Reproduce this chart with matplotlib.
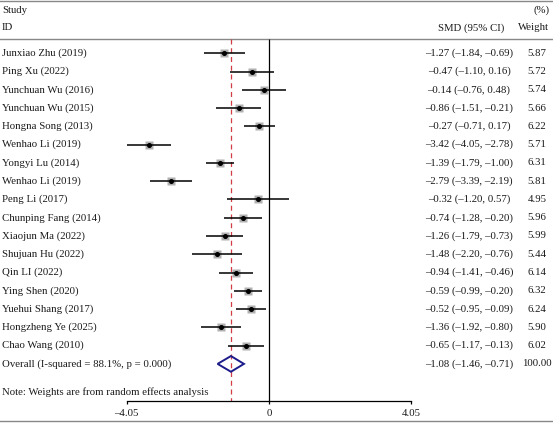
import matplotlib
matplotlib.use('Agg')
import matplotlib.pyplot as plt
from matplotlib.patches import Polygon
import numpy as np

# Forest plot: SMD with 95% CI, random effects weights.

studies = ['Junxiao Zhu (2019)', 'Ping Xu (2022)', 'Yunchuan Wu (2016)', 'Yunchuan Wu (2015)',
           'Hongna Song (2013)', 'Wenhao Li (2019)', 'Yongyi Lu (2014)', 'Wenhao Li (2019)',
           'Peng Li (2017)', 'Chunping Fang (2014)', 'Xiaojun Ma (2022)', 'Shujuan Hu (2022)',
           'Qin LI (2022)', 'Ying Shen (2020)', 'Yuehui Shang (2017)', 'Hongzheng Ye (2025)',
           'Chao Wang (2010)']
smd = [-1.27, -0.47, -0.14, -0.86, -0.27, -3.42, -1.39, -2.79, -0.32, -0.74,
       -1.26, -1.48, -0.94, -0.59, -0.52, -1.36, -0.65]
ci_low = [-1.84, -1.10, -0.76, -1.51, -0.71, -4.05, -1.79, -3.39, -1.20, -1.28,
          -1.79, -2.20, -1.41, -0.99, -0.95, -1.92, -1.17]
ci_high = [-0.69, 0.16, 0.48, -0.21, 0.17, -2.78, -1.00, -2.19, 0.57, -0.20,
           -0.73, -0.76, -0.46, -0.20, -0.09, -0.80, -0.13]
weights = [5.87, 5.72, 5.74, 5.66, 6.22, 5.71, 6.31, 5.81, 4.95, 5.96,
           5.99, 5.44, 6.14, 6.32, 6.24, 5.90, 6.02]
overall_label = 'Overall (I-squared = 88.1%, p = 0.000)'
overall_smd = -1.08
overall_low = -1.46
overall_high = -0.71
overall_weight = 100.00
xticks = [-4.05, 0, 4.05]
xtick_labels = ['–4.05', '0', '4.05']

W, H = 553, 424
FONT = 'Liberation Serif'
FS = 7.75
TXT = '#1a1a1a'
RULE = '#888888'


def fmt(v):
    return f'{v:.2f}'.replace('-', '–')


fig = plt.figure(figsize=(W / 100, H / 100), dpi=100)
ax = fig.add_axes([0, 0, 1, 1])

# x: -4.05 -> px 126.7, 4.05 -> px 411 ; y: row index, row 0 at px 53.3, 18.27 px per row
ppu = (411 - 126.7) / 8.1
ax.set_xlim(-4.05 - 126.7 / ppu, 4.05 + (W - 411) / ppu)
ax.set_ylim((H - 53.3) / 18.27, -53.3 / 18.27)

n = len(studies)
rows = np.arange(n)
ov_row = n
top_rule, head_rule, axis_row, bottom_rule = -2.86, -0.81, 19.03, 20.12

tr = ax.get_yaxis_transform()  # x axes fraction, y data
tx = lambda px: px / W

ax.axhline(top_rule, color=RULE, lw=1.0)
ax.axhline(head_rule, color=RULE, lw=1.0)
ax.axhline(bottom_rule, color=RULE, lw=1.0)

ax.vlines(0, head_rule, axis_row, color='black', lw=0.9)
ax.vlines(overall_smd, head_rule, axis_row, color='#d23c46', lw=0.9, linestyles=(0, (4, 3)))

# CI lines and weighted squares
ax.hlines(rows, ci_low, ci_high, color='black', lw=1.1, zorder=3)
for r, m, w in zip(rows, smd, weights):
    ax.plot(m, r, marker='s', ms=2.5 * np.sqrt(w), color='#b0b0b0', mec='none', zorder=2)
ax.plot(smd, rows, 'o', ms=2.6, color='black', zorder=4)

# overall diamond
hh = 0.43
ax.add_patch(Polygon([(overall_low, ov_row), (overall_smd, ov_row - hh),
                      (overall_high, ov_row), (overall_smd, ov_row + hh)],
                     closed=True, fill=False, edgecolor='#1c1c8a', lw=1.4, zorder=5))

kw = dict(family=FONT, fontsize=FS, color=TXT, va='center', transform=tr)
ax.text(tx(2), -2.37, 'Study', **kw)
ax.text(tx(2), -1.385, 'ID', **kw)
ax.text(tx(549), -2.37, '(%)', ha='right', **kw)
ax.text(tx(549), -1.385, 'Weight', ha='right', **kw)
ax.text(tx(471), -1.385, 'SMD (95% CI)', ha='center', **kw)

for r, s, m, lo, hi, w in zip(rows, studies, smd, ci_low, ci_high, weights):
    ax.text(tx(2), r, s, **kw)
    ax.text(tx(469), r, f'{fmt(m)} ({fmt(lo)}, {fmt(hi)})', ha='center', **kw)
    ax.text(tx(537), r, f'{w:.2f}', ha='center', **kw)

ax.text(tx(2), ov_row, overall_label, **kw)
ax.text(tx(469), ov_row, f'{fmt(overall_smd)} ({fmt(overall_low)}, {fmt(overall_high)})',
        ha='center', **kw)
ax.text(tx(537), ov_row, f'{overall_weight:.2f}', ha='center', **kw)
ax.text(tx(2), 18.54, 'Note: Weights are from random effects analysis', **kw)

# x axis
for side in ['top', 'left', 'right']:
    ax.spines[side].set_visible(False)
ax.spines['bottom'].set_position(('data', axis_row))
ax.spines['bottom'].set_bounds(xticks[0], xticks[-1])
ax.spines['bottom'].set_linewidth(0.9)
ax.set_yticks([])
ax.set_xticks(xticks)
ax.set_xticklabels(xtick_labels, family=FONT, fontsize=FS, color=TXT)
ax.tick_params(axis='x', direction='out', length=2.5, width=0.9, pad=3)
ax.patch.set_visible(False)

fig.savefig('out.png', dpi=100)
